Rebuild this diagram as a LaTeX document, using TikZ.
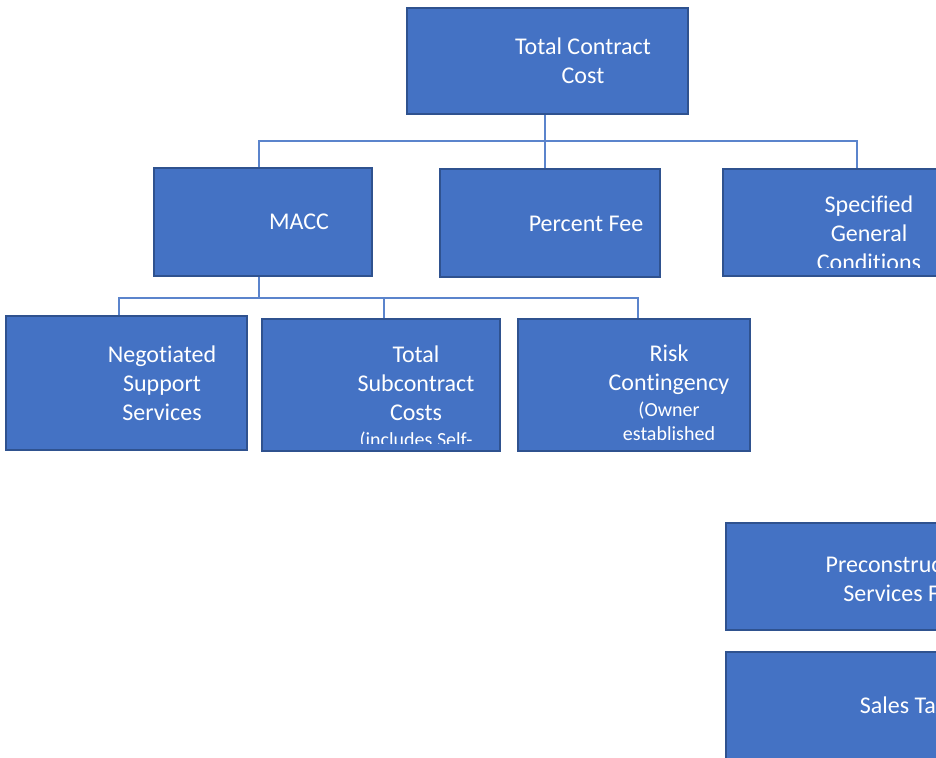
\documentclass[tikz,border=0pt]{standalone}
\usepackage{fontspec}
\setmainfont[Ligatures=NoCommon]{Carlito}
\usepackage{tikz}

\definecolor{boxblue}{HTML}{4472C4}
\definecolor{boxedge}{HTML}{2F528F}
\definecolor{linkblue}{HTML}{5B84CC}
\newcommand{\bigfnt}{\fontsize{24}{29}\selectfont}
\newcommand{\smallfnt}{\fontsize{20}{24}\selectfont}

\begin{document}
\begin{tikzpicture}[x=1pt, y=-1pt,
	box/.style = {draw=boxedge, fill=boxblue, line width=2pt, inner sep=0pt},
	lbl/.style = {text=white, font=\bigfnt, align=center, inner sep=0pt, anchor=base},
	conn/.style = {draw=linkblue, line width=1.2pt}]
\useasboundingbox (0, 0) rectangle (936, 757);
\clip (0, 0) rectangle (936, 757);

% boxes
\node[box, minimum width=281, minimum height=106] (total) at (547.5, 61) {};
\node[box, minimum width=218, minimum height=108] (macc) at (263, 222) {};
\node[box, minimum width=220, minimum height=108] (fee) at (550, 223) {};
\node[box, minimum width=220, minimum height=107] (gencond) at (833, 222.5) {};
\node[box, minimum width=241, minimum height=134] (nss) at (126.5, 383) {};
\node[box, minimum width=238, minimum height=132] (subcon) at (381, 385) {};
\node[box, minimum width=232, minimum height=132] (risk) at (634, 385) {};
\node[box, minimum width=282, minimum height=107] (precon) at (867, 576.5) {};
\node[box, minimum width=282, minimum height=108] (tax) at (867, 706) {};

% labels (anchored on the last line)
\node[lbl] (totaltxt) at (583, 83.5) {Total Contract\\Cost};
\node[lbl] (macctxt) at (299, 229.5) {MACC};
\node[lbl] (feetxt) at (586, 231.5) {Percent Fee};
\begin{scope}
\clip (723, 169) rectangle (943, 267);
\node[lbl] (gencondtxt) at (869, 270.5) {Specified\\General\\Conditions};
\end{scope}
\node[lbl] (nsstxt) at (162, 420.5) {Negotiated\\Support\\Services};
\begin{scope}
\clip (262, 319) rectangle (500, 443);
\node[lbl] (subcontxt) at (416, 446) {Total\\Subcontract\\Costs\\[-3pt]{\smallfnt (includes Self-}};
\end{scope}
\node[lbl] (risktxt) at (669, 440) {Risk\\Contingency\\[-3pt]{\smallfnt (Owner}\\[-5pt]{\smallfnt established}};
\node[lbl] (precontxt) at (903, 601.5) {Preconstruction\\Services Fee};
\node[lbl] (taxtxt) at (903, 713.5) {Sales Tax};

% connectors
\coordinate (bus1) at (545, 141);
\coordinate (bus2) at (259, 298);
\draw[conn] ([xshift=-2.5]total.south) -- ([xshift=-5]fee.north);
\draw[conn] ([xshift=-4]macc.north) |- (bus1) -| ([xshift=24]gencond.north);
\draw[conn] ([xshift=-4]macc.south) -- (bus2);
\draw[conn] ([xshift=-7.5]nss.north) |- (bus2) -| ([xshift=4]risk.north);
\draw[conn] ([xshift=3]subcon.north) -- ([xshift=3]subcon.north |- bus2);
\end{tikzpicture}
\end{document}
